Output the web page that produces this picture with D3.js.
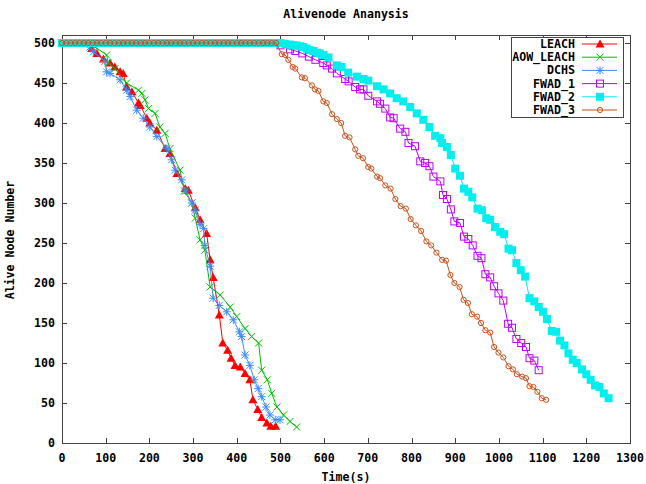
<!DOCTYPE html>
<html>
<head>
<meta charset="utf-8">
<script src="https://cdn.jsdelivr.net/npm/d3@7"></script>
<style>
  html, body { margin: 0; padding: 0; background: #fff; }
  svg text { font-family: "DejaVu Sans Mono", monospace; font-weight: bold; font-size: 11.6px; fill: #000; }
</style>
</head>
<body>
<svg id="chart" width="646" height="484"></svg>
<script>
// Time (s) at which every network still has all 500 nodes alive
const flatTimes = [0, 10, 20, 30, 40, 50, 60, 70, 80, 90, 100, 110, 120, 130, 140, 150, 160, 170, 180, 190,
  200, 210, 220, 230, 240, 250, 260, 270, 280, 290, 300, 310, 320, 330, 340, 350, 360, 370, 380, 390,
  400, 410, 420, 430, 440, 450, 460, 470, 480, 490];

// [time, alive nodes] per protocol
const leach = [[0, 500], [10, 500], [20, 500], [30, 500], [40, 500], [50, 500], [60, 500],
  [68, 493], [80, 487], [95, 480], [110, 475], [121, 470], [133, 464], [140, 462], [148, 445], [160, 439],
  [175, 425], [179, 422], [194, 406], [201, 400], [217, 391], [236, 368], [247, 362], [263, 337],
  [282, 318], [289, 316], [305, 294], [316, 279], [331, 262], [339, 229], [346, 207], [360, 160],
  [368, 125], [379, 116], [387, 106], [396, 97], [408, 95], [419, 87], [430, 79], [437, 54],
  [448, 42], [457, 32], [469, 25], [478, 21], [489, 21]];

const aowLeach = [[0, 500], [10, 500], [20, 500], [30, 500], [40, 500], [50, 500], [60, 500], [70, 500],
  [76, 495], [102, 485], [106, 475], [121, 468], [148, 450], [175, 441], [183, 437], [190, 429],
  [198, 418], [213, 412], [224, 395], [236, 387], [247, 368], [270, 341], [280, 315], [297, 300],
  [305, 281], [316, 254], [327, 241], [339, 195], [362, 185], [385, 170], [400, 158], [419, 143],
  [434, 133], [450, 125], [457, 91], [470, 79], [480, 62], [492, 45], [507, 35], [522, 27], [537, 20]];

const dchs = [[0, 500], [10, 500], [20, 500], [30, 500], [40, 500], [50, 500], [60, 500],
  [64, 495], [72, 489], [98, 477], [102, 464], [110, 462], [133, 454], [148, 441], [156, 433],
  [171, 416], [186, 406], [201, 395], [217, 383], [240, 368], [251, 354], [259, 341], [274, 329],
  [283, 315], [297, 300], [305, 291], [316, 273], [324, 268], [327, 247], [339, 221], [346, 181],
  [360, 172], [377, 164], [392, 154], [406, 139], [411, 133], [419, 110], [430, 97], [440, 79],
  [449, 68], [457, 58], [467, 45], [476, 35], [488, 29], [499, 29]];

const fwad1Tail = [[500, 497], [522, 492], [534, 490], [550, 487], [565, 483], [580, 479], [598, 475],
  [606, 472], [618, 468], [629, 462], [648, 455], [656, 452], [671, 445], [682, 442], [690, 442],
  [701, 434], [721, 427], [728, 424], [740, 418], [751, 407], [759, 406], [774, 393], [786, 389],
  [793, 375], [808, 371], [820, 352], [831, 350], [841, 346], [850, 333], [866, 327], [872, 310],
  [881, 305], [890, 292], [898, 277], [911, 275], [920, 258], [930, 255], [940, 247], [951, 234],
  [960, 231], [969, 211], [980, 207], [989, 196], [999, 187], [1010, 178], [1021, 149], [1030, 144],
  [1040, 130], [1051, 125], [1062, 120], [1070, 106], [1081, 103], [1091, 91]];

const fwad2Tail = [[500, 500], [510, 499], [522, 498], [530, 497], [537, 497], [545, 496], [552, 495],
  [560, 493], [568, 491], [575, 490], [583, 488], [590, 487], [598, 485], [610, 482], [629, 472],
  [640, 470], [655, 463], [675, 458], [690, 455], [701, 453], [721, 446], [736, 442], [751, 437],
  [766, 431], [781, 427], [797, 420], [812, 412], [827, 404], [841, 395], [854, 384], [866, 381],
  [870, 375], [881, 370], [890, 360], [900, 343], [911, 334], [920, 318], [930, 314], [939, 307],
  [951, 293], [961, 291], [971, 281], [980, 279], [991, 270], [1003, 264], [1012, 261], [1022, 243],
  [1030, 241], [1040, 225], [1050, 216], [1060, 208], [1070, 181], [1081, 177], [1091, 170],
  [1101, 164], [1110, 155], [1121, 140], [1131, 139], [1140, 128], [1150, 122], [1159, 112],
  [1169, 104], [1178, 100], [1190, 92], [1200, 86], [1210, 79], [1220, 72], [1230, 70], [1240, 62],
  [1251, 56]];

const fwad3Tail = [[503, 486], [511, 485], [518, 479], [528, 470], [534, 468], [549, 457], [556, 456],
  [572, 447], [579, 442], [587, 440], [598, 427], [606, 425], [618, 411], [629, 405], [639, 400],
  [648, 384], [658, 382], [671, 367], [678, 359], [689, 356], [701, 345], [708, 343], [721, 333],
  [728, 331], [740, 322], [752, 318], [763, 305], [775, 296], [787, 293], [798, 280], [810, 272],
  [822, 265], [834, 252], [845, 247], [857, 238], [870, 229], [879, 228], [889, 210], [898, 200],
  [910, 195], [919, 179], [929, 175], [938, 161], [950, 158], [959, 150], [969, 141], [980, 138],
  [989, 120], [999, 113], [1010, 107], [1022, 96], [1032, 92], [1041, 86], [1053, 83], [1062, 81],
  [1070, 71], [1079, 70], [1088, 64], [1098, 56], [1108, 54]];

const seriesNames = ["LEACH", "AOW_LEACH", "DCHS", "FWAD_1", "FWAD_2", "FWAD_3"];
const seriesColors = ["#ff0000", "#00c000", "#3a8cff", "#c000ff", "#00eeee", "#c8501a"];
const seriesShapes = ["triangle", "cross", "star", "square", "filledSquare", "circle"];

const xTicks = [0, 100, 200, 300, 400, 500, 600, 700, 800, 900, 1000, 1100, 1200, 1300];
const yTicks = [0, 50, 100, 150, 200, 250, 300, 350, 400, 450, 500];

const titleText = "Alivenode Ananysis";
const xLabel = "Time(s)";
const yLabel = "Alive Node Number";

// FWAD runs keep all nodes alive through the shared flat stretch, then decline
const flat = flatTimes.map(t => [t, 500]);
const seriesData = [leach, aowLeach, dchs, flat.concat(fwad1Tail), flat.concat(fwad2Tail), flat.concat(fwad3Tail)];

const svg = d3.select("#chart");
const plotLeft = 62, plotRight = 630, plotTop = 35, plotBottom = 443;

const x = d3.scaleLinear().domain([0, 1300]).range([plotLeft, plotRight]);
const y = d3.scaleLinear().domain([0, 510]).range([plotBottom, plotTop]);

const borderColor = "#444";

// tick marks on all four sides (drawn inward)
const tickLen = 5;
const ticks = svg.append("g").attr("stroke", borderColor).attr("stroke-width", 1);
xTicks.forEach(v => {
  const px = Math.round(x(v)) + 0.5;
  ticks.append("line").attr("x1", px).attr("x2", px).attr("y1", plotBottom).attr("y2", plotBottom - tickLen);
  ticks.append("line").attr("x1", px).attr("x2", px).attr("y1", plotTop).attr("y2", plotTop + tickLen);
});
yTicks.forEach(v => {
  const py = Math.round(y(v)) + 0.5;
  ticks.append("line").attr("x1", plotLeft).attr("x2", plotLeft + tickLen).attr("y1", py).attr("y2", py);
  ticks.append("line").attr("x1", plotRight).attr("x2", plotRight - tickLen).attr("y1", py).attr("y2", py);
});

// tick labels
svg.append("g").selectAll("text").data(xTicks).join("text")
  .attr("x", d => x(d)).attr("y", 462).attr("text-anchor", "middle").text(d => d);
svg.append("g").selectAll("text").data(yTicks).join("text")
  .attr("x", 55).attr("y", d => y(d) + 4).attr("text-anchor", "end").text(d => d);

// border
svg.append("rect").attr("x", plotLeft + 0.5).attr("y", plotTop + 0.5)
  .attr("width", plotRight - plotLeft).attr("height", plotBottom - plotTop)
  .attr("fill", "none").attr("stroke", borderColor).attr("stroke-width", 1);

// titles
svg.append("text").attr("x", 346).attr("y", 18).attr("text-anchor", "middle").text(titleText);
svg.append("text").attr("x", 346).attr("y", 481).attr("text-anchor", "middle").text(xLabel);
svg.append("text").attr("transform", "translate(14,240) rotate(-90)").attr("text-anchor", "middle").text(yLabel);

// marker painter
function drawMarker(g, shape, color, cx, cy) {
  if (shape === "triangle") {
    g.append("path").attr("d", `M${cx},${cy - 4.5}L${cx + 4.5},${cy + 3.5}L${cx - 4.5},${cy + 3.5}Z`).attr("fill", color);
  } else if (shape === "cross") {
    g.append("path").attr("d", `M${cx - 3.5},${cy - 3.5}L${cx + 3.5},${cy + 3.5}M${cx - 3.5},${cy + 3.5}L${cx + 3.5},${cy - 3.5}`)
      .attr("stroke", color).attr("stroke-width", 1).attr("fill", "none");
  } else if (shape === "star") {
    g.append("path").attr("d", `M${cx - 3.5},${cy - 3.5}L${cx + 3.5},${cy + 3.5}M${cx - 3.5},${cy + 3.5}L${cx + 3.5},${cy - 3.5}M${cx - 4},${cy}L${cx + 4},${cy}M${cx},${cy - 4}L${cx},${cy + 4}`)
      .attr("stroke", color).attr("stroke-width", 1).attr("fill", "none");
  } else if (shape === "square") {
    g.append("rect").attr("x", cx - 3.5).attr("y", cy - 3.5).attr("width", 7).attr("height", 7)
      .attr("stroke", color).attr("stroke-width", 1).attr("fill", "none");
  } else if (shape === "filledSquare") {
    g.append("rect").attr("x", cx - 4).attr("y", cy - 4).attr("width", 8).attr("height", 8).attr("fill", color);
  } else if (shape === "circle") {
    g.append("circle").attr("cx", cx).attr("cy", cy).attr("r", 2.6)
      .attr("stroke", color).attr("stroke-width", 1).attr("fill", "none");
  }
}

const line = d3.line().x(d => x(d[0])).y(d => y(d[1]));

seriesData.forEach((data, i) => {
  const g = svg.append("g");
  g.append("path").datum(data).attr("d", line)
    .attr("fill", "none").attr("stroke", seriesColors[i]).attr("stroke-width", 1);
  data.forEach(d => drawMarker(g, seriesShapes[i], seriesColors[i], x(d[0]), y(d[1])));
});

// legend
const legend = svg.append("g");
legend.append("rect").attr("x", 511.5).attr("y", 37.5).attr("width", 112).attr("height", 80)
  .attr("fill", "#fff").attr("stroke", borderColor).attr("stroke-width", 1);
seriesNames.forEach((name, i) => {
  const ly = 44 + i * 13.2;
  legend.append("text").attr("x", 575).attr("y", ly + 4).attr("text-anchor", "end").text(name);
  legend.append("line").attr("x1", 582).attr("x2", 617).attr("y1", ly).attr("y2", ly)
    .attr("stroke", seriesColors[i]).attr("stroke-width", 1);
  drawMarker(legend, seriesShapes[i], seriesColors[i], 600, ly);
});
</script>
</body>
</html>
